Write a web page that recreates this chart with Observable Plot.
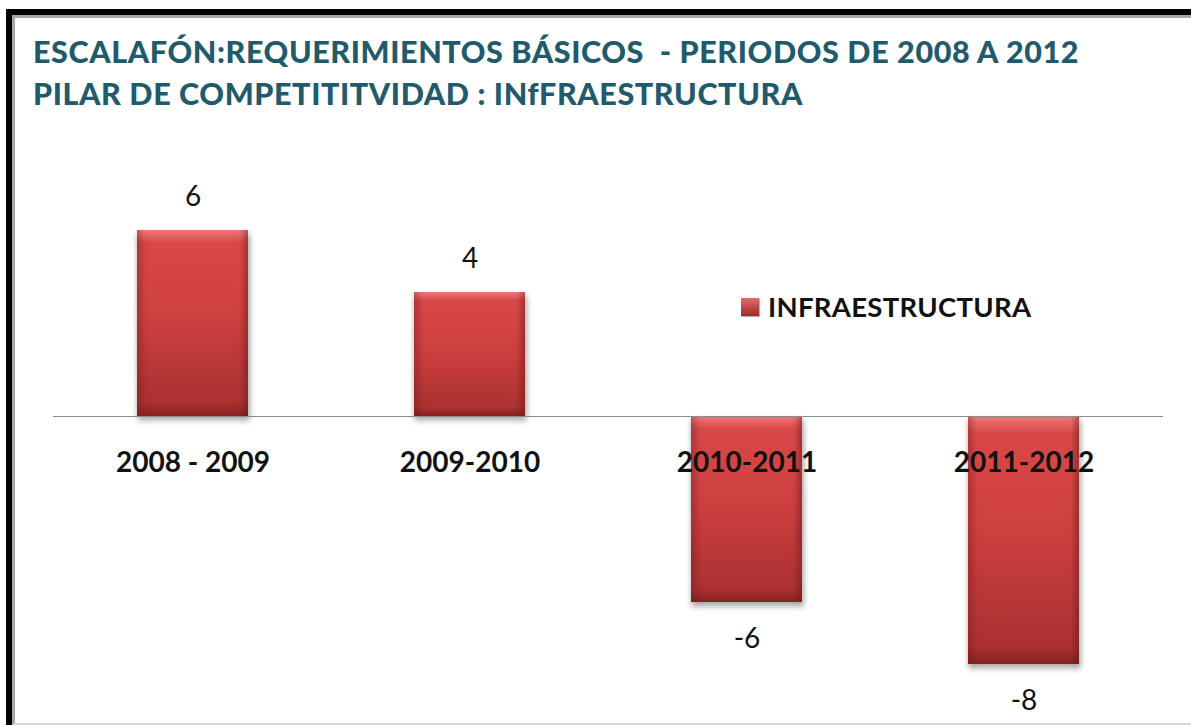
<!DOCTYPE html>
<html>
<head>
<meta charset="utf-8">
<script src="https://cdn.jsdelivr.net/npm/d3@7"></script>
<script src="https://cdn.jsdelivr.net/npm/@observablehq/plot@0.6"></script>
<style>
  html, body { margin: 0; padding: 0; background: #fff; width: 1191px; height: 725px; overflow: hidden; }
  #frameOuter { position: absolute; left: 6px; top: 9px; width: 1185px; height: 716px; border-top: 6px solid #000; border-left: 6px solid #000; box-sizing: border-box; }
  #frameInner { position: absolute; left: 0; top: 0; right: 0; bottom: 0; border-top: 3px solid #a6a6a6; border-left: 3px solid #a6a6a6; border-bottom: 2px solid #d9d9d9; }
  #title { position: absolute; left: 33px; top: 30px; font-family: Lato, "Open Sans", sans-serif; font-weight: 900; font-size: 30.5px; letter-spacing: 0.6px; line-height: 42px; color: #215a6b; white-space: pre; }
  #chart { position: absolute; left: 0; top: 130px; }
  #legend { position: absolute; left: 741px; top: 290px; font-family: Lato, "Open Sans", sans-serif; font-weight: bold; font-size: 27.5px; letter-spacing: 0.3px; color: #111; display: flex; align-items: center; }
  #legend .sw { width: 18px; height: 18px; background: linear-gradient(#e46a6a, #9e2b2b); margin-right: 9px; box-shadow: 1px 1px 1px rgba(0,0,0,0.3); }
  g[aria-label="bar"] rect { filter: drop-shadow(1px 4px 3px rgba(0,0,0,0.35)); }
</style>
</head>
<body>
<div id="frameOuter"><div id="frameInner"></div></div>
<div id="title">ESCALAFÓN:REQUERIMIENTOS BÁSICOS  - PERIODOS DE 2008 A 2012
PILAR DE COMPETITITVIDAD : INfFRAESTRUCTURA</div>
<div id="chart"></div>
<div id="legend"><div class="sw"></div><span id="legendLabel"></span></div>
<script>
const periods = ["2008 - 2009", "2009-2010", "2010-2011", "2011-2012"];
const values = [6, 4, -6, -8];
const seriesName = "INFRAESTRUCTURA";

const data = periods.map((p, i) => ({period: p, value: values[i]}));
document.getElementById("legendLabel").textContent = seriesName;

const defs = () => {
  const ns = "http://www.w3.org/2000/svg";
  const d = document.createElementNS(ns, "defs");
  d.innerHTML = `
    <linearGradient id="barGrad" x1="0" y1="0" x2="0" y2="1">
      <stop offset="0" stop-color="#ee7878"/>
      <stop offset="0.07" stop-color="#d94848"/>
      <stop offset="0.45" stop-color="#cf4040"/>
      <stop offset="0.93" stop-color="#ab3131"/>
      <stop offset="1" stop-color="#872222"/>
    </linearGradient>
    <linearGradient id="edgeGrad" x1="0" y1="0" x2="1" y2="0">
      <stop offset="0" stop-color="#7a1a1a" stop-opacity="0.35"/>
      <stop offset="0.07" stop-color="#7a1a1a" stop-opacity="0"/>
      <stop offset="0.93" stop-color="#7a1a1a" stop-opacity="0"/>
      <stop offset="1" stop-color="#7a1a1a" stop-opacity="0.45"/>
    </linearGradient>`;
  return d;
};

const font = "Lato, 'Open Sans', sans-serif";
const chart = Plot.plot({
  width: 1191,
  height: 595,
  marginLeft: 53,
  marginRight: 28,
  marginTop: 100,
  marginBottom: 61,
  x: {domain: periods, paddingInner: 0.6, paddingOuter: 0.3, axis: null},
  y: {domain: [-8, 6], axis: null},
  style: {fontFamily: font, background: "transparent", overflow: "visible"},
  marks: [
    defs,
    Plot.barY(data, {x: "period", y: "value", fill: "url(#barGrad)"}),
    Plot.barY(data, {x: "period", y: "value", fill: "url(#edgeGrad)"}),
    Plot.ruleY([0], {stroke: "#8c8c8c", strokeWidth: 1.2}),
    Plot.text(data.filter(d => d.value >= 0), {x: "period", y: "value", text: d => String(d.value), dy: -33, fontSize: 28, fill: "#111"}),
    Plot.text(data.filter(d => d.value < 0), {x: "period", y: "value", text: d => String(d.value), dy: 37, fontSize: 28, fill: "#111"}),
    Plot.text(data, {x: "period", y: () => 0, text: "period", dy: 47, fontSize: 28, fontWeight: "bold", fill: "#111"})
  ]
});
document.getElementById("chart").appendChild(chart);
</script>
</body>
</html>
